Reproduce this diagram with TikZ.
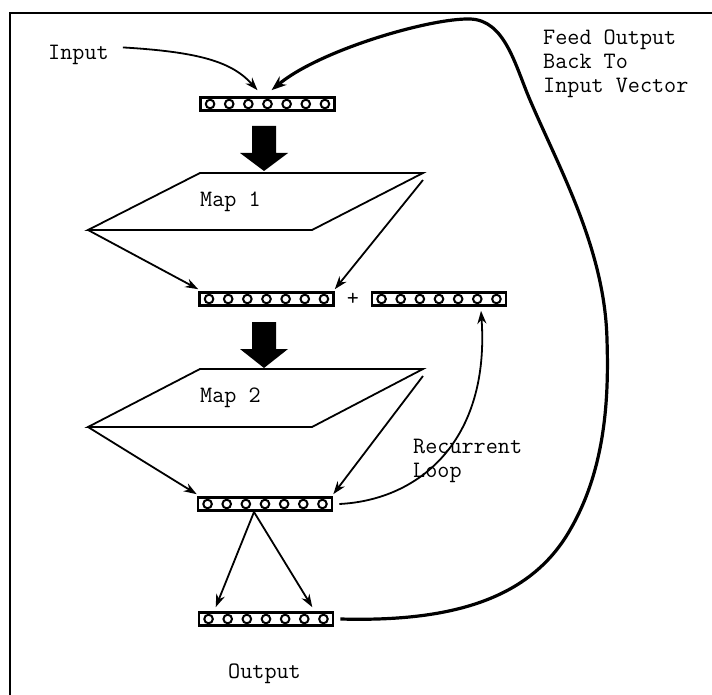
\documentclass[tikz,border=0pt]{standalone}
\usepackage{fontspec}
\usetikzlibrary{arrows.meta,calc}

\tikzset{
  lbl/.style={font=\ttfamily\fontsize{23.5}{24}\selectfont, inner sep=0pt, anchor=base west, align=left},
  vecbar/.style={draw, line width=2.6pt, fill=white, minimum width=134pt,
    minimum height=13pt, inner sep=0pt,
    path picture={
      \foreach \k in {1,...,6}{
        \fill ($(path picture bounding box.south west)!{\k/7}!(path picture bounding box.south east)$)
          ++(-2pt,0pt) rectangle ++(4pt,13pt);
      }
      \foreach \k in {0,...,6}{
        \draw[line width=2pt, fill=white]
          ($(path picture bounding box.west)!{(\k+0.5)/7}!(path picture bounding box.east)$)
          circle[radius=4.3pt];
      }
    }},
  thin/.style={line width=1.8pt, -{Stealth[length=13pt,width=9pt]}},
  thick/.style={line width=3.2pt, -{Stealth[length=15pt,width=11pt]}},
  mapedge/.style={line width=1.8pt, line join=miter},
  blockarrow/.style={fill=black}
}

\begin{document}
\begin{tikzpicture}[x=1pt,y=-1pt]
  \useasboundingbox (0,0) rectangle (712,695);

  % frame
  \draw[line width=2pt] (10,695) -- (10,13) -- (712,13);

  % labels (multi-line labels are placed by their last baseline)
  \node[lbl] (inlabel) at (48,60) {Input};
  \node[lbl] (feedlabel) at (543,93) {Feed Output\\Back To\\Input Vector};
  \node[lbl] (map1label) at (200,207) {Map 1};
  \node[lbl] (map2label) at (200,402) {Map 2};
  \node[lbl] (reclabel) at (413,477) {Recurrent\\Loop};
  \node[lbl] (outlabel) at (228,678) {Output};
  \node[font=\ttfamily\fontsize{23.5}{24}\selectfont, inner sep=0pt] (plus) at (353,299) {+};

  % vectors
  \node[vecbar] (invec) at (267.5,104) {};
  \node[vecbar] (hidvec) at (266.5,299) {};
  \node[vecbar] (ctxvec) at (439,299) {};
  \node[vecbar] (recvec) at (265,504) {};
  \node[vecbar] (outvec) at (266,619) {};

  % map 1
  \coordinate (m1l) at (88,230);
  \coordinate (m1tl) at (200,173);
  \coordinate (m1tr) at (423,173);
  \coordinate (m1br) at (312,230);
  \draw[mapedge] (m1l) -- (m1tl) -- (m1tr) -- (m1br) -- cycle;

  % map 2
  \coordinate (m2l) at (88,427);
  \coordinate (m2tl) at (200,369);
  \coordinate (m2tr) at (423,369);
  \coordinate (m2br) at (312,427);
  \draw[mapedge] (m2l) -- (m2tl) -- (m2tr) -- (m2br) -- cycle;

  % block arrows
  \fill[blockarrow] (252,126) -- (276,126) -- (276,153) -- (288,153) -- (264,171)
    -- (240,153) -- (252,153) -- cycle;
  \fill[blockarrow] (252,322) -- (276,322) -- (276,349) -- (288,349) -- (264,368)
    -- (240,349) -- (252,349) -- cycle;

  % input arrow
  \draw[thin] (inlabel.east) ++(14,-8) coordinate (inst)
    (inst) .. controls (200,52) and (232,62) .. ($(invec.north)+(-10,-6)$);

  % map arrows
  \coordinate (m1rs) at (423,180);
  \coordinate (m2rs) at (423,376);
  \draw[thin] (m1l) -- ($(hidvec.north west)+(0,-2)$);
  \draw[thin] (m1rs) -- ($(hidvec.north east)+(0,-2)$);
  \draw[thin] (m2l) -- ($(recvec.north west)+(0,-2)$);
  \draw[thin] (m2rs) -- ($(recvec.north east)+(0,-2)$);

  % output arrows
  \coordinate (split) at (254,512);
  \draw[thin] (split) -- ($(outvec.north west)+(18,-4)$);
  \draw[thin] (split) -- ($(outvec.north east)+(-22,-4)$);

  % recurrent loop
  \draw[thin] ($(recvec.east)+(6,0)$) .. controls (420,500) and (490,440) .. ($(ctxvec.south)+(42,4)$);

  % feedback to input
  \draw[thick] ($(outvec.east)+(6,0)$) .. controls (450,622) and (530,600) .. (570,530)
    .. controls (605,470) and (609,400) .. (607,340)
    .. controls (605,250) and (560,170) .. (530,100)
    .. controls (515,65) and (505,20) .. (470,19)
    .. controls (430,18) and (320,50) .. ($(invec.north)+(4,-6)$);
\end{tikzpicture}
\end{document}
